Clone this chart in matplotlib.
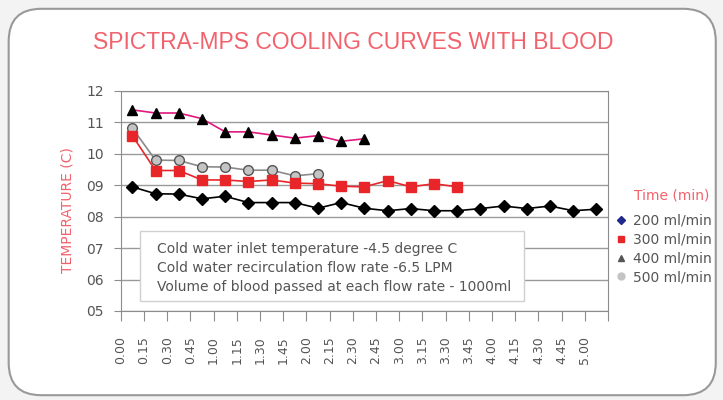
import numpy as np
import matplotlib.pyplot as plt
from matplotlib.patches import FancyBboxPatch, Rectangle
from matplotlib.lines import Line2D

time_labels = ["0.00", "0.15", "0.30", "0.45", "1.00", "1.15", "1.30", "1.45", "2.00", "2.15", "2.30",
               "2.45", "3.00", "3.15", "3.30", "3.45", "4.00", "4.15", "4.30", "4.45", "5.00"]
flow_200 = [8.95, 8.73, 8.72, 8.57, 8.65, 8.45, 8.45, 8.45, 8.27, 8.45, 8.27,
            8.19, 8.26, 8.19, 8.19, 8.26, 8.34, 8.26, 8.34, 8.19, 8.24]
flow_300 = [10.58, 9.47, 9.47, 9.17, 9.17, 9.12, 9.17, 9.07, 9.05, 8.97, 8.95,
            9.15, 8.95, 9.05, 8.95]
flow_400 = [11.40, 11.30, 11.30, 11.12, 10.70, 10.70, 10.60, 10.50, 10.58, 10.40, 10.48]
flow_500 = [10.82, 9.80, 9.79, 9.59, 9.58, 9.48, 9.48, 9.30, 9.37]
y_labels = ["05", "06", "07", "08", "09", "10", "11", "12"]
notes = ["Cold water inlet temperature -4.5 degree C",
         "Cold water recirculation flow rate -6.5 LPM",
         "Volume of blood passed at each flow rate - 1000ml"]

salmon = "#F2626C"
txt = "#555555"

fig = plt.figure(figsize=(7.23, 4.0), dpi=100, facecolor="#f3f3f3")
frame = FancyBboxPatch((0.012, 0.012), 0.978, 0.966, boxstyle="round,pad=0,rounding_size=0.045",
                       transform=fig.transFigure, facecolor="white", edgecolor="#999999",
                       linewidth=1.5, zorder=0, mutation_aspect=723 / 400)
fig.patches.append(frame)

ax = fig.add_axes([0.167, 0.2225, 0.674, 0.55])
ax.set_zorder(3)
ax.set_facecolor("white")

def xs(vals):
    return np.arange(len(vals)) + 0.5

ax.plot(xs(flow_200), flow_200, color="black", lw=1.2, marker="D", ms=6, mfc="black", mec="black", zorder=3)
ax.plot(xs(flow_300), flow_300, color="#E8262A", lw=1.2, marker="s", ms=7, mfc="#E8262A", mec="#E8262A", zorder=4)
ax.plot(xs(flow_400), flow_400, color="#E0197F", lw=1.2, marker="^", ms=7, mfc="black", mec="black", zorder=3)
ax.plot(xs(flow_500), flow_500, color="#8a8a8a", lw=1.2, marker="o", ms=7, mfc="#c4c4c4", mec="#555555", zorder=3)

ax.set_xlim(0, 21)
ax.set_ylim(5, 12)
ax.set_yticks(range(5, 13))
ax.set_yticklabels(y_labels)
ax.set_xticks(range(0, 22))
ax.set_xticklabels(time_labels + [""], rotation=90, va="top")
ax.grid(axis="y", color="#9a9a9a", lw=1)
ax.set_axisbelow(True)
for s in ax.spines.values():
    s.set_color("#8c8c8c")
ax.tick_params(axis="y", direction="out", length=5, color="#8c8c8c", labelcolor=txt, labelsize=10, pad=7)
ax.tick_params(axis="x", direction="out", length=7, color="#8c8c8c", labelcolor=txt, labelsize=9, pad=11)

fig.text(0.0927, 0.475, "TEMPERATURE (C)", color=salmon, fontsize=10, rotation=90,
         ha="center", va="center")

fig.text(0.128, 0.893, "SPICTRA-MPS COOLING CURVES WITH BLOOD", color=salmon, fontsize=16.5,
         family=["Liberation Sans Narrow", "Liberation Sans", "DejaVu Sans"], va="center", ha="left",
         zorder=5)

# note box inside the plot area
box = Rectangle((140 / 723, 1 - 301 / 400), 384 / 723, 70 / 400, transform=fig.transFigure,
                facecolor="white", edgecolor="#d0d0d0", lw=1, zorder=6)
fig.patches.append(box)
for i, line in enumerate(notes):
    fig.text(157 / 723, 1 - (249.5 + 18.5 * i) / 400, line, fontsize=10, color=txt,
             ha="left", va="center", zorder=7)

handles = [
    Line2D([], [], ls="", marker="D", ms=4, color="#1f2a8a"),
    Line2D([], [], ls="", marker="s", ms=5, color="#E8262A"),
    Line2D([], [], ls="", marker="^", ms=5, color="#555555"),
    Line2D([], [], ls="", marker="o", ms=5, color="#c4c4c4"),
]
leg = fig.legend(handles, ["200 ml/min", "300 ml/min", "400 ml/min", "500 ml/min"],
                 loc="upper left", bbox_to_anchor=(0.851, 0.465), frameon=False, fontsize=10,
                 handlelength=0.8, handletextpad=0.5, labelspacing=0.34, borderaxespad=0,
                 borderpad=0)
leg.set_zorder(5)
for t in leg.get_texts():
    t.set_color(txt)
fig.text(672 / 723, 1 - 195 / 400, "Time (min)", color=salmon, fontsize=10, ha="center", va="center")

fig.savefig("out.png", dpi=100, facecolor=fig.get_facecolor())
